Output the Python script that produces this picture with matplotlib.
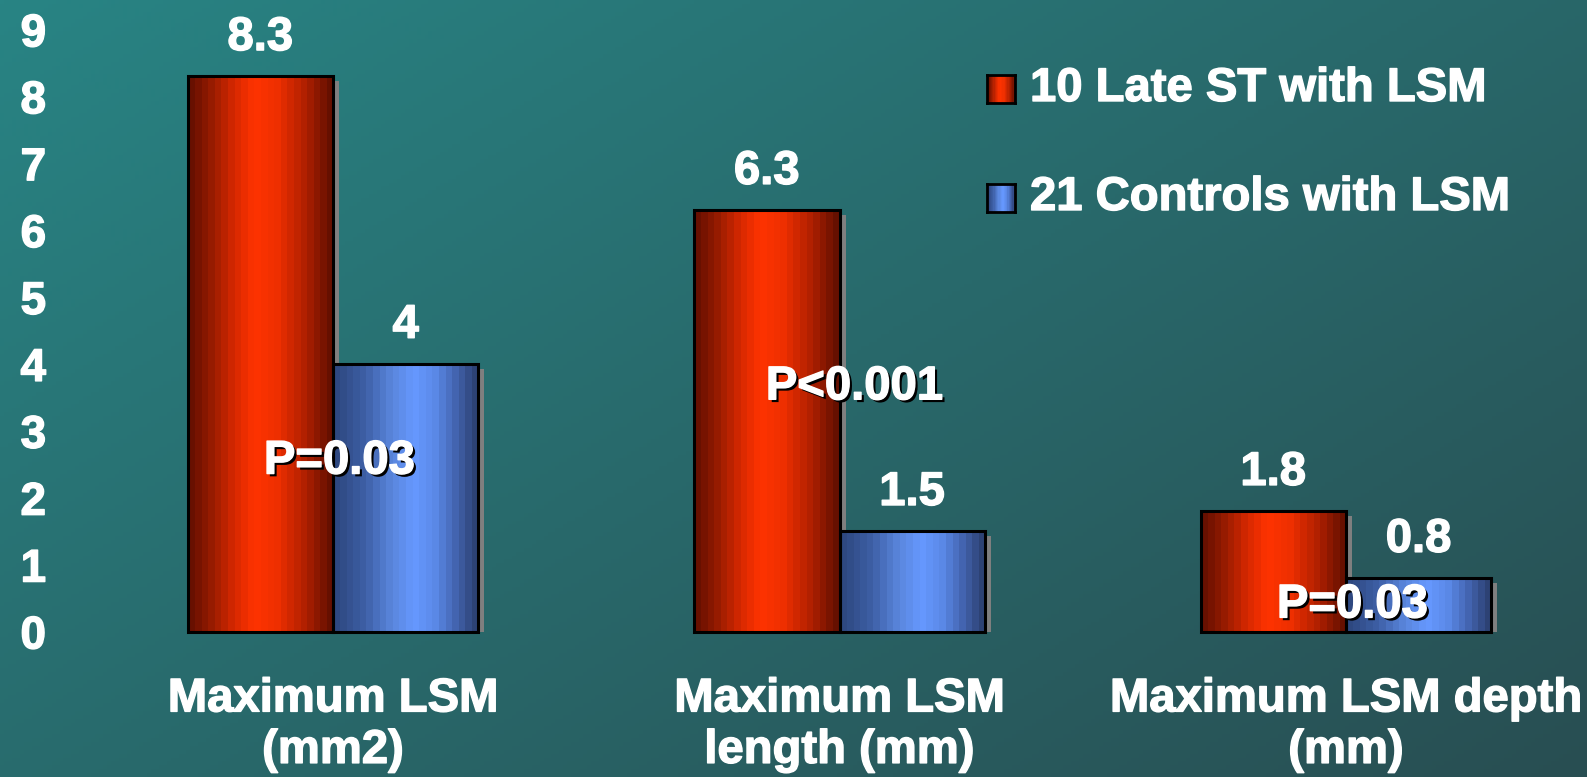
import numpy as np
import matplotlib
matplotlib.use("Agg")
import matplotlib.pyplot as plt
from matplotlib.colors import LinearSegmentedColormap, ListedColormap
from matplotlib.patches import Rectangle
import matplotlib.patheffects as pe

# ---- data ----
categories = ["Maximum LSM\n(mm2)", "Maximum LSM\nlength (mm)", "Maximum LSM depth\n(mm)"]
late_st = [8.3, 6.3, 1.8]
controls = [4.0, 1.5, 0.8]
p_labels = ["P=0.03", "P<0.001", "P=0.03"]
series_names = ["10 Late ST with LSM", "21 Controls with LSM"]
yticks = list(range(0, 10))

# ---- layout ----
W, H = 1587, 777
DPI = 100
FONT = "Liberation Sans"
FS = 34
p_label_pos = [(0.013, 2.54), (0.03, 3.65), (0.013, 0.39)]  # (dx from group centre, y)

fig = plt.figure(figsize=(W / DPI, H / DPI), dpi=DPI)

# background gradient (teal top-left to darker slate bottom-right)
bg = fig.add_axes([0, 0, 1, 1], zorder=0)
bg.set_axis_off()
yy, xx = np.mgrid[0:1:200j, 0:1:400j]
t = np.clip(0.55 * xx + 0.45 * yy, 0, 1)
c0 = np.array([40, 132, 132]) / 255
c1 = np.array([40, 78, 82]) / 255
img = c0[None, None, :] * (1 - t[..., None]) + c1[None, None, :] * t[..., None]
bg.imshow(img, extent=(0, 1, 0, 1), aspect="auto", origin="upper")
bg.set_xlim(0, 1)
bg.set_ylim(0, 1)


def banded(stops, n=22):
    cm = LinearSegmentedColormap.from_list("c", stops)
    return ListedColormap(cm(np.linspace(0, 1, n)))


red_cmap = banded([(0.0, "#681000"), (0.15, "#991c00"), (0.3, "#d42800"),
                   (0.45, "#ff3300"), (0.62, "#ee2f00"), (0.82, "#b02000"),
                   (1.0, "#661000")])
blue_cmap = banded([(0.0, "#2e4880"), (0.2, "#3d5fa5"), (0.4, "#5a86dd"),
                    (0.56, "#6699ff"), (0.72, "#5a88e6"), (0.87, "#4262ac"),
                    (1.0, "#2d4274")])

# main axes: pixel geometry -> data limits
left_px = 60
x_center0, x_step = 333, 506.5
base_px, unit_px = 631.5, 66.9
ax = fig.add_axes([left_px / W, 0, 1 - left_px / W, 1], zorder=1)
ax.patch.set_alpha(0)
xlim = ((left_px - x_center0) / x_step, (W - x_center0) / x_step)
ylim = (-(H - base_px) / unit_px, base_px / unit_px)

bw = 0.287
grad = np.linspace(0, 1, 256).reshape(1, -1)
sx, sy = 6 / x_step, 5 / unit_px


def draw_bar(x0, h, cmap):
    ax.add_patch(Rectangle((x0 + sx, 0), bw, h - sy, facecolor="#7f7f7f",
                           edgecolor="none", zorder=2))
    ax.imshow(grad, cmap=cmap, extent=(x0, x0 + bw, 0, h), aspect="auto",
              interpolation="nearest", zorder=3)
    ax.add_patch(Rectangle((x0, 0), bw, h, fill=False, edgecolor="black",
                           linewidth=2.2, zorder=4))


x = np.arange(len(categories))
for i in range(len(categories)):
    draw_bar(x[i] - bw, late_st[i], red_cmap)
    draw_bar(x[i], controls[i], blue_cmap)

heavy = [pe.Stroke(linewidth=1.0, foreground="white"), pe.Normal()]
txt = dict(color="white", fontsize=FS, fontweight="bold", family=FONT)
shadow = [pe.SimplePatchShadow(offset=(2, -2), shadow_rgbFace="black", alpha=1.0),
          pe.Stroke(linewidth=1.0, foreground="white"), pe.Normal()]
for i in range(len(categories)):
    ax.text(x[i] - bw / 2, late_st[i] + 0.57, f"{late_st[i]:g}",
            ha="center", va="center", zorder=6, path_effects=heavy, **txt)
    ax.text(x[i] + bw / 2, controls[i] + 0.57, f"{controls[i]:g}",
            ha="center", va="center", zorder=6, path_effects=heavy, **txt)
    dx, py = p_label_pos[i]
    ax.text(x[i] + dx, py, p_labels[i], ha="center", va="center",
            zorder=7, path_effects=shadow, **txt)
    ax.text(x[i], -1.40, categories[i], ha="center", va="center",
            linespacing=1.22, zorder=6, path_effects=heavy, **txt)

ax.set_xlim(*xlim)
ax.set_ylim(*ylim)
ax.set_xticks([])
ax.set_yticks(yticks)
ax.set_yticklabels([str(v) for v in yticks])
ax.tick_params(axis="y", length=0, pad=10)
for lab in ax.get_yticklabels():
    lab.set_color("white")
    lab.set_fontsize(FS - 1)
    lab.set_fontweight("bold")
    lab.set_family(FONT)
    lab.set_path_effects(heavy)
for s in ax.spines.values():
    s.set_visible(False)

# legend
for (cmap, name, cy) in [(red_cmap, series_names[0], 89), (blue_cmap, series_names[1], 198)]:
    sw = fig.add_axes([987 / W, 1 - (cy + 14) / H, 28 / W, 28 / H], zorder=2)
    sw.imshow(grad, cmap=cmap, aspect="auto", interpolation="nearest")
    sw.set_xticks([])
    sw.set_yticks([])
    for s in sw.spines.values():
        s.set_linewidth(2)
        s.set_color("black")
    fig.text(1030 / W, 1 - cy / H, name, ha="left", va="center",
             path_effects=heavy, **txt)

fig.savefig("out.png", dpi=DPI)
